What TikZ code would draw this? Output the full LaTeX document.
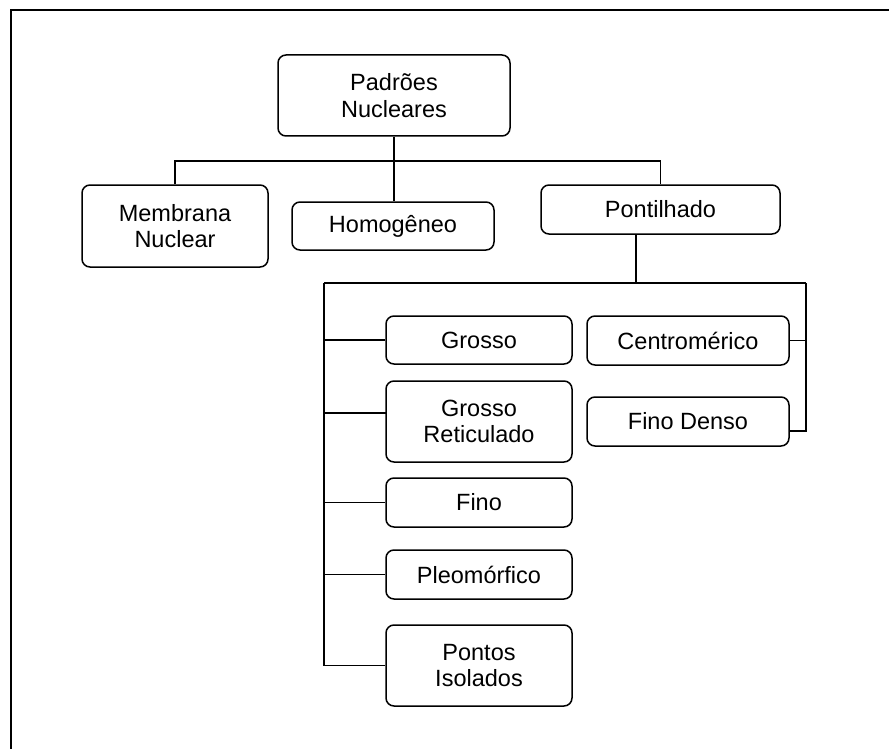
\documentclass[tikz,border=0pt]{standalone}
\usepackage{fontspec}
\setmainfont{Liberation Sans}
\begin{document}
\begin{tikzpicture}[x=1pt,y=-1pt,
  box/.style={draw, line width=1.5pt, rounded corners=8pt, align=center, inner sep=0pt,
    font=\fontsize{23.5}{26.5}\selectfont},
  conn/.style={line width=1.5pt}]
\useasboundingbox (0,0) rectangle (889,749);
\draw[line width=2pt] (11,749) -- (11,10) -- (889,10);

\node[box, minimum width=232pt, minimum height=81pt] (pad) at (394,95.5) {Padrões\\Nucleares};
\node[box, minimum width=186pt, minimum height=82pt] (mem) at (175,226) {Membrana\\Nuclear};
\node[box, minimum width=202pt, minimum height=48pt] (hom) at (393,226) {Homogêneo};
\node[box, minimum width=239pt, minimum height=49pt] (pon) at (660.5,209.5) {Pontilhado};

\node[box, minimum width=186pt, minimum height=48pt] (gro) at (479,340) {Grosso};
\node[box, minimum width=186pt, minimum height=81pt] (ret) at (479,421.5) {Grosso\\Reticulado};
\node[box, minimum width=186pt, minimum height=49pt] (fin) at (479,502.5) {Fino};
\node[box, minimum width=186pt, minimum height=49pt] (ple) at (479,574.5) {Pleomórfico};
\node[box, minimum width=186pt, minimum height=81pt] (pts) at (479,665.5) {Pontos\\Isolados};
\node[box, minimum width=202pt, minimum height=49pt] (cen) at (688,340.5) {Centromérico};
\node[box, minimum width=202pt, minimum height=49pt] (fde) at (688,421.5) {Fino Denso};

\coordinate (j1) at (394,161);
\coordinate (pdrop) at (636,234);
\coordinate (bm) at (636,283);
\coordinate (bl) at (324,283);
\coordinate (br) at (806,283);
\coordinate (rj) at (386,413);
\coordinate (fj) at (789,431);

\draw[conn] (mem.north) |- (j1) -| (pon.north);
\draw[conn] (pad.south) -- (pad.south |- hom.north);
\draw[conn] (pdrop) -- (bm);
\draw[conn] (bl) -- (br);
\draw[conn] (bl) |- (pts.west);
\draw[conn] (bl |- gro.west) -- (gro.west);
\draw[conn] (bl |- rj) -- (rj);
\draw[conn] (bl |- fin.west) -- (fin.west);
\draw[conn] (bl |- ple.west) -- (ple.west);
\draw[conn] (br) |- (fj);
\draw[conn] (cen.east) -- (cen.east -| br);
\end{tikzpicture}
\end{document}
